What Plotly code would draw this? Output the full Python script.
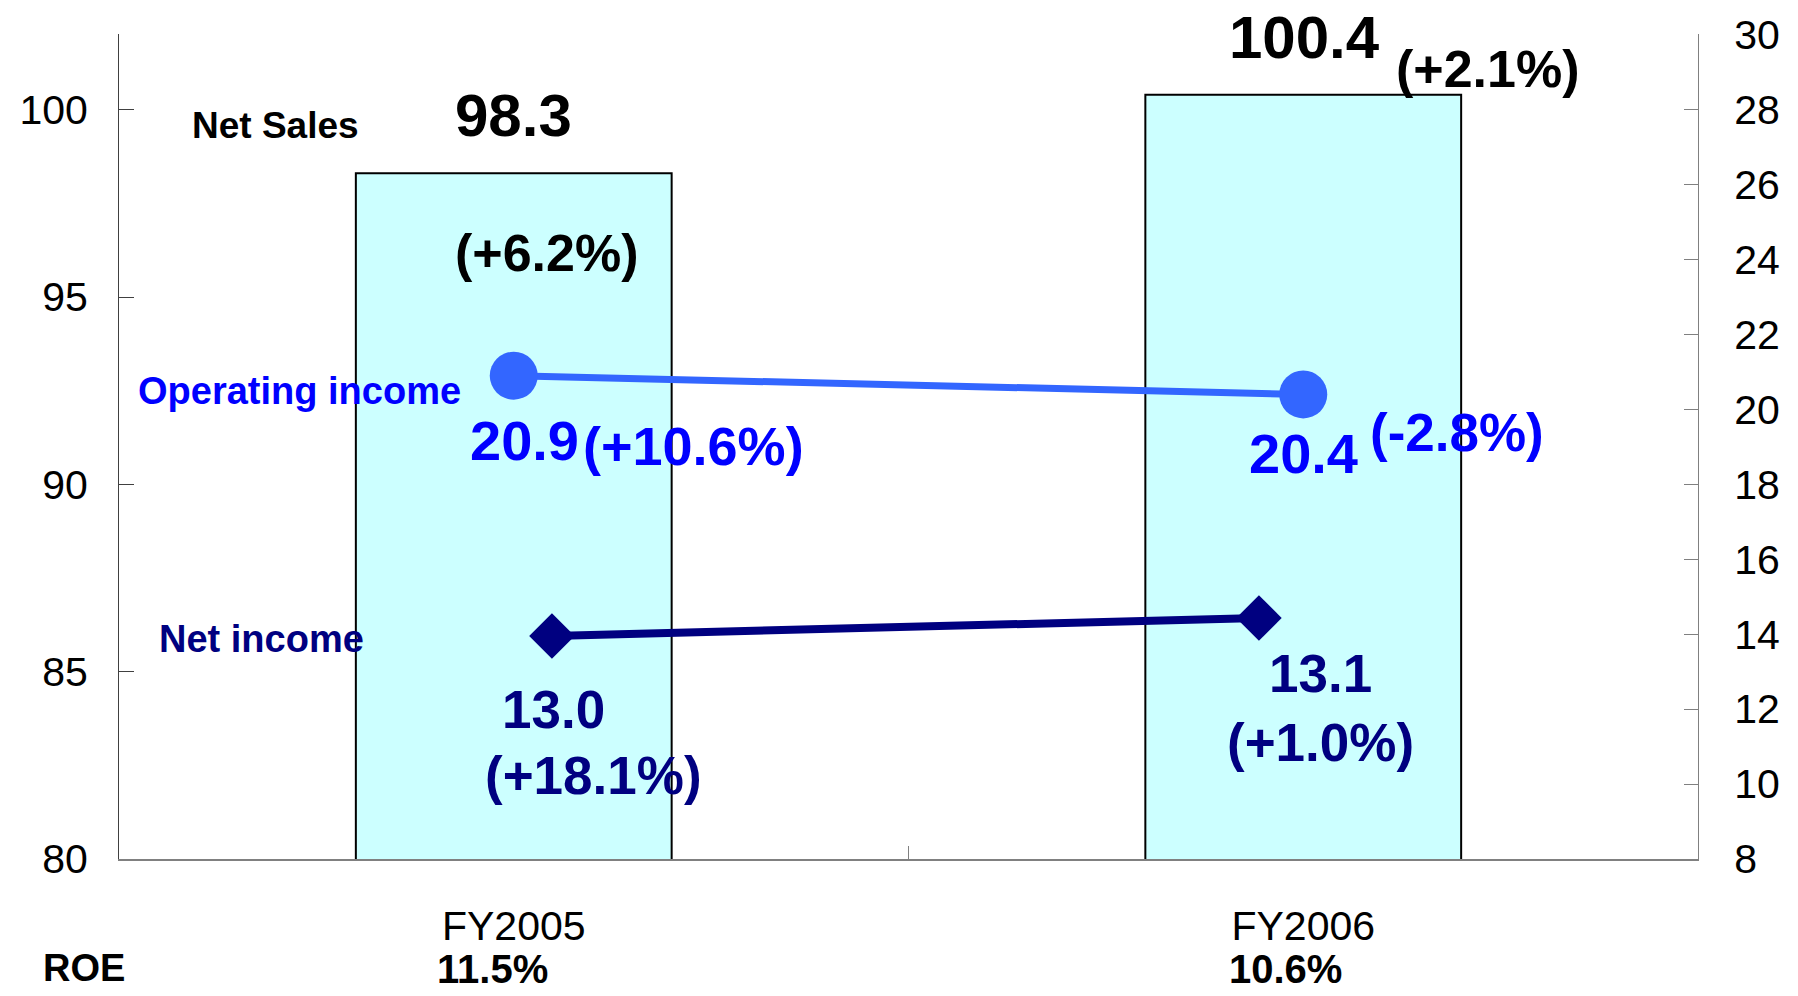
import plotly.graph_objects as go

# Fiscal years and results (billions)
years = ["FY2005", "FY2006"]
net_sales = [98.3, 100.4]
net_sales_change = ["+6.2%", "+2.1%"]
operating_income = [20.9, 20.4]
operating_income_change = ["+10.6%", "-2.8%"]
net_income = [13.0, 13.1]
net_income_change = ["+18.1%", "+1.0%"]
roe = ["11.5%", "10.6%"]

left_ticks = [80, 85, 90, 95, 100]
right_ticks = [8, 10, 12, 14, 16, 18, 20, 22, 24, 26, 28, 30]

W, H = 1798, 996
L, R, T, B = 119, 1698, 34, 859  # plot area in pixels

FONT = "Liberation Sans, Arial, sans-serif"
BLACK = "#000000"
OP_LINE = "#3366FF"
OP_TEXT = "#0000FF"
NAVY = "#000080"


def px(x):
    return (x - L) / (R - L)


def py(y):
    return (B - y) / (B - T)


fig = go.Figure()

fig.add_trace(go.Bar(
    x=years, y=net_sales, name="Net Sales",
    marker=dict(color="#CCFFFF", line=dict(color=BLACK, width=2)),
    xaxis="x", yaxis="y",
))

fig.add_trace(go.Scatter(
    x=years, y=operating_income, name="Operating income",
    mode="lines+markers",
    line=dict(color=OP_LINE, width=7),
    marker=dict(symbol="circle", size=48, color=OP_LINE),
    xaxis="x", yaxis="y2",
))

fig.add_trace(go.Scatter(
    x=years, y=net_income, name="Net income",
    mode="lines+markers",
    line=dict(color=NAVY, width=8),
    marker=dict(symbol="diamond", size=35, color=NAVY),
    xaxis="x2", yaxis="y3",
))


def label(text, x, y, size, color=BLACK, bold=True):
    fig.add_annotation(
        text=f"<b>{text}</b>" if bold else text,
        x=px(x), y=py(y), xref="paper", yref="paper",
        xanchor="center", yanchor="middle", showarrow=False,
        font=dict(family=FONT, size=size, color=color),
    )


# Net sales
label("Net Sales", 275, 125, 37)
label(f"{net_sales[0]:.1f}", 513, 116, 60)
label(f"({net_sales_change[0]})", 547, 253, 52)
label(f"{net_sales[1]:.1f}", 1304, 37, 60)
label(f"({net_sales_change[1]})", 1488, 69, 52)

# Operating income
label("Operating income", 299, 391, 38, OP_TEXT)
label(f"{operating_income[0]:.1f}", 524, 441, 56, OP_TEXT)
label(f"({operating_income_change[0]})", 693, 446, 54, OP_TEXT)
label(f"{operating_income[1]:.1f}", 1303, 454, 56, OP_TEXT)
label(f"({operating_income_change[1]})", 1457, 432, 53, OP_TEXT)

# Net income
label("Net income", 261, 639, 38, NAVY)
label(f"{net_income[0]:.1f}", 553, 709, 53, NAVY)
label(f"({net_income_change[0]})", 593, 775, 53, NAVY)
label(f"{net_income[1]:.1f}", 1320, 673, 53, NAVY)
label(f"({net_income_change[1]})", 1320, 742, 53, NAVY)

# ROE row
label("ROE", 84, 968, 38)
label(roe[0], 492, 969, 40)
label(roe[1], 1285, 969, 40)

fig.update_layout(
    width=W, height=H,
    margin=dict(l=L, r=W - R, t=T, b=H - B, pad=0),
    paper_bgcolor="white", plot_bgcolor="white",
    showlegend=False, bargap=0.6,
    font=dict(family=FONT, size=41, color=BLACK),
    xaxis=dict(
        type="category", range=[-0.5, 1.5],
        showline=True, linecolor="#808080", linewidth=2,
        ticks="inside", tickson="boundaries", ticklen=13,
        tickcolor="#808080", tickwidth=1,
        showgrid=False, zeroline=False,
        tickfont=dict(family=FONT, size=41, color=BLACK),
        ticklabelstandoff=30,
    ),
    xaxis2=dict(
        type="category", overlaying="x", range=[-0.6124, 1.621],
        visible=False,
    ),
    yaxis=dict(
        range=[80, 102.02], tickvals=left_ticks,
        showline=True, linecolor="#404040", linewidth=1,
        ticks="inside", ticklen=15, tickcolor="#404040",
        showgrid=False, zeroline=False,
        tickfont=dict(family=FONT, size=41, color=BLACK),
        ticklabelstandoff=22,
    ),
    yaxis2=dict(
        range=[8, 30.02], tickvals=right_ticks, overlaying="y", side="right",
        showline=True, linecolor="#808080", linewidth=1,
        ticks="inside", ticklen=14, tickcolor="#808080",
        showgrid=False, zeroline=False,
        tickfont=dict(family=FONT, size=41, color=BLACK),
        ticklabelstandoff=27,
    ),
    yaxis3=dict(
        range=[11.761, 16.344], overlaying="y", visible=False,
    ),
)

fig.write_html("out.html")
